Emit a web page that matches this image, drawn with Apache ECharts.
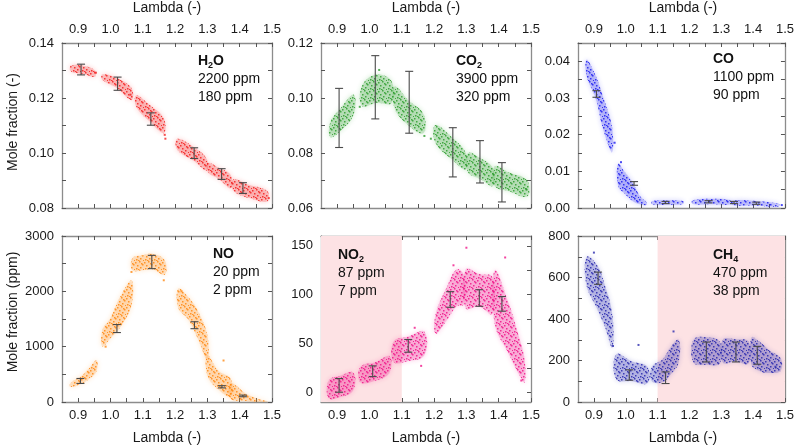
<!DOCTYPE html>
<html lang="en">
<head>
    <meta charset="UTF-8">
    <title>Mole fraction vs Lambda</title>
    <script src="https://cdn.jsdelivr.net/npm/echarts@6/dist/echarts.min.js"></script>
    <style>
        html, body { margin: 0; padding: 0; background: #fff; }
        #main { width: 797px; height: 445px; }
    </style>
</head>
<body>
<div id="main"></div>
<script>
    // ---- axis ticks / labels ----
    var lambdaTicks = [0.9, 0.95, 1.0, 1.05, 1.1, 1.15, 1.2, 1.25, 1.3, 1.35, 1.4, 1.45, 1.5];
    var lambdaLabels = [0.9, 1.0, 1.1, 1.2, 1.3, 1.4, 1.5];
    var h2oTicks = [0.08, 0.09, 0.10, 0.11, 0.12, 0.13, 0.14];
    var h2oLabels = [0.08, 0.10, 0.12, 0.14];
    var co2Ticks = [0.06, 0.07, 0.08, 0.09, 0.10, 0.11, 0.12];
    var co2Labels = [0.06, 0.08, 0.10, 0.12];
    var coTicks = [0, 0.005, 0.01, 0.015, 0.02, 0.025, 0.03, 0.035, 0.04, 0.045];
    var coLabels = [0, 0.01, 0.02, 0.03, 0.04];
    var noTicks = [0, 500, 1000, 1500, 2000, 2500, 3000];
    var noLabels = [0, 1000, 2000, 3000];
    var no2Ticks = [0, 25, 50, 75, 100, 125, 150];
    var no2Labels = [0, 50, 100, 150];
    var ch4Ticks = [0, 100, 200, 300, 400, 500, 600, 700, 800];
    var ch4Labels = [0, 200, 400, 600, 800];

    // ---- point clouds: each cluster = [lambda, low, high] outline ----
    var h2oClouds = [
        [[0.878, 0.1296, 0.1318], [0.92, 0.1286, 0.1316], [0.952, 0.1277, 0.1300]],
        [[0.975, 0.1266, 0.1286], [1.02, 0.1236, 0.1272], [1.065, 0.1192, 0.1236]],
        [[1.08, 0.1168, 0.1210], [1.12, 0.1116, 0.1176], [1.165, 0.1072, 0.1126]],
        [[1.207, 0.1012, 0.1052], [1.26, 0.0970, 0.1020], [1.298, 0.0936, 0.0978]],
        [[1.302, 0.0930, 0.0964], [1.335, 0.0906, 0.0946], [1.372, 0.0872, 0.0920]],
        [[1.38, 0.0864, 0.0904], [1.43, 0.0836, 0.0884], [1.485, 0.0824, 0.0862]]
    ];
    var h2oBars = [[0.909, 0.1284, 0.1323], [1.022, 0.1228, 0.1276], [1.125, 0.1101, 0.1146],
        [1.259, 0.0980, 0.1019], [1.344, 0.0904, 0.0943], [1.41, 0.0853, 0.0892]];
    var h2oStray = [[1.17, 0.1052], [1.168, 0.1066], [1.062, 0.1212], [1.49, 0.0836], [0.955, 0.1292]];

    var co2Clouds = [
        [[0.879, 0.0858, 0.0912], [0.91, 0.0880, 0.0962], [0.951, 0.0940, 0.1012]],
        [[0.977, 0.0970, 0.1045], [1.02, 0.0982, 0.1085], [1.068, 0.0982, 0.1062]],
        [[1.078, 0.0962, 0.1042], [1.12, 0.0902, 0.0992], [1.167, 0.0872, 0.0942]],
        [[1.204, 0.0838, 0.0902], [1.26, 0.0772, 0.0852], [1.298, 0.0740, 0.0800]],
        [[1.305, 0.0730, 0.0800], [1.345, 0.0705, 0.0780], [1.382, 0.0680, 0.0745]],
        [[1.388, 0.0680, 0.0752], [1.43, 0.0662, 0.0730], [1.488, 0.0642, 0.0700]]
    ];
    var co2Bars = [[0.906, 0.0820, 0.1035], [1.018, 0.0924, 0.1154], [1.123, 0.0872, 0.1097],
        [1.258, 0.0713, 0.0892], [1.342, 0.0691, 0.0845], [1.41, 0.0622, 0.0765]];
    var co2Stray = [[0.97, 0.0968], [1.17, 0.0862], [1.19, 0.0852], [1.485, 0.0668], [1.03, 0.1102]];

    var coClouds = [
        [[0.877, 0.0360, 0.0405], [0.905, 0.0300, 0.0362], [0.93, 0.0212, 0.0300], [0.957, 0.0152, 0.0220]],
        [[0.976, 0.0060, 0.0122], [0.995, 0.0040, 0.0100], [1.02, 0.0020, 0.0072], [1.045, 0.0010, 0.0032], [1.065, 0.0008, 0.0016]],
        [[1.082, 0.0010, 0.0019], [1.13, 0.0009, 0.0021], [1.18, 0.0011, 0.0019]],
        [[1.21, 0.0011, 0.0021], [1.27, 0.0010, 0.0025], [1.33, 0.0010, 0.0021]],
        [[1.335, 0.0008, 0.0020], [1.40, 0.0007, 0.0020], [1.48, 0.0004, 0.0012]]
    ];
    var coBars = [[0.908, 0.0302, 0.0320], [1.026, 0.0062, 0.0072], [1.125, 0.0012, 0.0018],
        [1.26, 0.0014, 0.0020], [1.34, 0.0012, 0.0018], [1.41, 0.0010, 0.0016]];
    var coStray = [[0.965, 0.0178], [0.985, 0.0125], [1.49, 0.0008]];

    var noClouds = [
        [[0.876, 270, 340], [0.91, 330, 470], [0.935, 420, 620], [0.957, 560, 760]],
        [[0.975, 1000, 1300], [1.0, 1150, 1520], [1.03, 1350, 1900], [1.065, 1750, 2200]],
        [[1.068, 2380, 2600], [1.10, 2380, 2650], [1.13, 2400, 2680], [1.168, 2300, 2560]],
        [[1.21, 1700, 2050], [1.24, 1500, 1900], [1.27, 1150, 1650], [1.30, 750, 1200]],
        [[1.30, 480, 850], [1.335, 220, 560], [1.372, 100, 420]],
        [[1.372, 60, 340], [1.42, 20, 150], [1.46, 0, 50], [1.485, 0, 18]]
    ];
    var noBars = [[0.907, 335, 425], [1.02, 1255, 1400], [1.128, 2410, 2650],
        [1.26, 1325, 1450], [1.345, 255, 295], [1.41, 95, 125]];
    var noStray = [[0.985, 1000], [1.065, 2350], [1.165, 2200], [1.22, 2000], [1.35, 750]];

    var no2Clouds = [
        [[0.874, -6, 12], [0.91, -5, 17], [0.95, 2, 20]],
        [[0.972, 10, 26], [1.02, 12, 31], [1.062, 20, 37]],
        [[1.075, 31, 52], [1.12, 32, 57], [1.17, 38, 62]],
        [[1.205, 60, 80], [1.24, 74, 108], [1.27, 88, 126], [1.292, 90, 120]],
        [[1.298, 86, 126], [1.34, 88, 121], [1.38, 80, 118]],
        [[1.388, 70, 125], [1.43, 40, 92], [1.46, 20, 60], [1.48, 10, 34]]
    ];
    var no2Bars = [[0.906, 0, 14], [1.01, 16, 27], [1.12, 41, 54],
        [1.25, 87, 103], [1.34, 88, 105], [1.41, 83, 98]];
    var no2Stray = [[1.30, 148], [1.42, 138], [1.26, 130], [1.14, 66], [1.16, 27], [1.47, 12]];

    var ch4Clouds = [
        [[0.877, 560, 700], [0.91, 450, 660], [0.935, 360, 560], [0.958, 260, 420]],
        [[0.97, 110, 230], [1.02, 100, 195], [1.068, 90, 170]],
        [[1.082, 100, 170], [1.115, 95, 205], [1.14, 130, 262], [1.166, 190, 300]],
        [[1.213, 190, 300], [1.255, 180, 312], [1.295, 185, 290]],
        [[1.305, 190, 300], [1.345, 195, 302], [1.385, 185, 292]],
        [[1.395, 180, 312], [1.42, 150, 290], [1.45, 140, 250], [1.486, 150, 212]]
    ];
    var ch4Bars = [[0.913, 567, 626], [1.011, 105, 155], [1.125, 89, 145],
        [1.253, 193, 289], [1.346, 193, 289], [1.413, 182, 268]];
    var ch4Stray = [[0.9, 720], [1.04, 275], [1.15, 340], [1.47, 170], [0.96, 270]];

    var panels = [
        {name: 'H', sub: '2', tail: 'O', lines: ['2200 ppm', '180 ppm'], color: '#f42020', clouds: h2oClouds, bars: h2oBars, stray: h2oStray,
            min: 0.08, max: 0.14, ticks: h2oTicks, labels: h2oLabels, digits: 2, text: [198, 54]},
        {name: 'CO', sub: '2', tail: '', lines: ['3900 ppm', '320 ppm'], color: '#2f9e2f', clouds: co2Clouds, bars: co2Bars, stray: co2Stray,
            min: 0.06, max: 0.12, ticks: co2Ticks, labels: co2Labels, digits: 2, text: [456, 54]},
        {name: 'CO', sub: '', tail: '', lines: ['1100 ppm', '90 ppm'], color: '#1f1ff0', clouds: coClouds, bars: coBars, stray: coStray,
            min: 0, max: 0.045, ticks: coTicks, labels: coLabels, digits: 2, text: [713, 52]},
        {name: 'NO', sub: '', tail: '', lines: ['20 ppm', '2 ppm'], color: '#ff8a14', clouds: noClouds, bars: noBars, stray: noStray,
            min: 0, max: 3000, ticks: noTicks, labels: noLabels, digits: 0, text: [213, 247]},
        {name: 'NO', sub: '2', tail: '', lines: ['87 ppm', '7 ppm'], color: '#f0168a', clouds: no2Clouds, bars: no2Bars, stray: no2Stray,
            min: -10, max: 160, ticks: no2Ticks, labels: no2Labels, digits: 0, text: [338, 248], shade: [0.85, 1.1]},
        {name: 'CH', sub: '4', tail: '', lines: ['470 ppm', '38 ppm'], color: '#2a2aae', clouds: ch4Clouds, bars: ch4Bars, stray: ch4Stray,
            min: 0, max: 800, ticks: ch4Ticks, labels: ch4Labels, digits: 0, text: [713, 248], shade: [1.1, 1.5]}
    ];

    var gridLefts = [62, 321, 578];
    var gridTops = [43, 236];
    var gridHeights = [165, 166];
    var axisGray = '#8c8c8c';
    var font = 'Liberation Sans, Arial, sans-serif';

    // 点云纹理
    function stipple(color) {
        var c = document.createElement('canvas');
        c.width = 9; c.height = 9;
        var ctx = c.getContext('2d');
        ctx.fillStyle = color;
        var dots = [[0, 1], [4, 0], [7, 3], [2, 4], [5, 6], [8, 8], [1, 7], [6, 2], [3, 8]];
        dots.forEach(function (d) { ctx.fillRect(d[0], d[1], 1.5, 1.5); });
        return c;
    }

    var grids = [], xAxes = [], yAxes = [], series = [], graphics = [];

    panels.forEach(function (p, i) {
        var row = i < 3 ? 0 : 1;
        var col = i % 3;
        grids.push({left: gridLefts[col], top: gridTops[row], width: 210, height: gridHeights[row]});

        ['bottom', 'top'].forEach(function (pos) {
            var showLab = (pos === 'bottom') === (row === 1);
            xAxes.push({
                gridIndex: i, type: 'value', position: pos, min: 0.85, max: 1.5,
                axisLine: {show: true, onZero: false, lineStyle: {color: axisGray, width: 1.3}},
                axisTick: {show: true, inside: true, length: 4, customValues: lambdaTicks, lineStyle: {color: '#555'}},
                axisLabel: {show: showLab, customValues: lambdaLabels, fontSize: 13, color: '#1a1a1a', fontFamily: font, margin: 7,
                    formatter: function (v) { return v.toFixed(1); }},
                splitLine: {show: false}
            });
        });
        ['left', 'right'].forEach(function (pos) {
            yAxes.push({
                gridIndex: i, type: 'value', position: pos, min: p.min, max: p.max,
                axisLine: {show: true, onZero: false, lineStyle: {color: axisGray, width: 1.3}},
                axisTick: {show: true, inside: true, length: 4, customValues: p.ticks, lineStyle: {color: '#555'}},
                axisLabel: {show: pos === 'left', customValues: p.labels, fontSize: 13, color: '#1a1a1a', fontFamily: font, margin: 8,
                    formatter: function (v) { return v.toFixed(p.digits); }},
                splitLine: {show: false}
            });
        });

        var pattern = {image: stipple(p.color), repeat: 'repeat'};

        // shaded lambda range
        if (p.shade) {
            series.push({
                type: 'line', xAxisIndex: 2 * i, yAxisIndex: 2 * i, data: [], z: 0,
                markArea: {silent: true, itemStyle: {color: '#fde2e4'}, data: [[{xAxis: p.shade[0]}, {xAxis: p.shade[1]}]]}
            });
        }

        // clouds
        series.push({
            type: 'custom', xAxisIndex: 2 * i, yAxisIndex: 2 * i, clip: true, z: 2,
            data: p.clouds.map(function (c) { return [c[0][0], c[0][1]]; }),
            renderItem: function (params, api) {
                var c = p.clouds[params.dataIndex];
                var pts = [];
                c.forEach(function (q) { pts.push(api.coord([q[0], q[2]])); });
                for (var k = c.length - 1; k >= 0; k--) pts.push(api.coord([c[k][0], c[k][1]]));
                return {
                    type: 'group', children: [
                        {type: 'polygon', shape: {points: pts, smooth: 0.4},
                            style: {fill: p.color, opacity: 0.2, shadowBlur: 5, shadowColor: p.color}},
                        {type: 'polygon', shape: {points: pts, smooth: 0.4}, style: {fill: pattern, opacity: 0.85}}
                    ]
                };
            }
        });

        // stray points
        series.push({
            type: 'scatter', xAxisIndex: 2 * i, yAxisIndex: 2 * i, data: p.stray, symbol: 'rect', symbolSize: 2,
            itemStyle: {color: p.color, opacity: 0.8}, z: 2, silent: true
        });

        // error bars
        series.push({
            type: 'custom', xAxisIndex: 2 * i, yAxisIndex: 2 * i, z: 3,
            encode: {x: 0, y: [1, 2]},
            data: p.bars,
            renderItem: function (params, api) {
                var lo = api.coord([api.value(0), api.value(1)]);
                var hi = api.coord([api.value(0), api.value(2)]);
                var w = 4;
                var st = {stroke: '#4a4a4a', lineWidth: 1.1};
                return {
                    type: 'group', children: [
                        {type: 'line', shape: {x1: lo[0], y1: lo[1], x2: hi[0], y2: hi[1]}, style: st},
                        {type: 'line', shape: {x1: lo[0] - w, y1: lo[1], x2: lo[0] + w, y2: lo[1]}, style: st},
                        {type: 'line', shape: {x1: hi[0] - w, y1: hi[1], x2: hi[0] + w, y2: hi[1]}, style: st}
                    ]
                };
            }
        });

        // gas label
        var head = '{b|' + p.name + '}' + (p.sub ? '{s|' + p.sub + '}' : '') + (p.tail ? '{b|' + p.tail + '}' : '');
        graphics.push({
            type: 'text', left: p.text[0], top: p.text[1], z: 10,
            style: {
                text: head + '\n{n|' + p.lines[0] + '}\n{n|' + p.lines[1] + '}',
                rich: {
                    b: {fontSize: 14, fontWeight: 'bold', fontFamily: font, fill: '#111', lineHeight: 18},
                    s: {fontSize: 9, fontWeight: 'bold', fontFamily: font, fill: '#111', lineHeight: 18, verticalAlign: 'bottom'},
                    n: {fontSize: 14, fontFamily: font, fill: '#111', lineHeight: 18}
                }
            }
        });

        // lambda axis titles
        graphics.push({
            type: 'text', x: gridLefts[col] + 105, y: row === 0 ? 8 : 438,
            style: {text: 'Lambda (-)', fontSize: 14, fontFamily: font, fill: '#1a1a1a', align: 'center', verticalAlign: 'middle'}
        });
    });

    graphics.push({
        type: 'text', x: 13, y: 122, rotation: Math.PI / 2,
        style: {text: 'Mole fraction (-)', fontSize: 14, fontFamily: font, fill: '#1a1a1a', align: 'center', verticalAlign: 'middle'}
    });
    graphics.push({
        type: 'text', x: 13, y: 312, rotation: Math.PI / 2,
        style: {text: 'Mole fraction (ppm)', fontSize: 14, fontFamily: font, fill: '#1a1a1a', align: 'center', verticalAlign: 'middle'}
    });

    var myChart = echarts.init(document.getElementById('main'), null, {renderer: 'canvas'});
    myChart.setOption({
        animation: false,
        backgroundColor: '#fff',
        grid: grids,
        xAxis: xAxes,
        yAxis: yAxes,
        series: series,
        graphic: graphics
    });
</script>
</body>
</html>
